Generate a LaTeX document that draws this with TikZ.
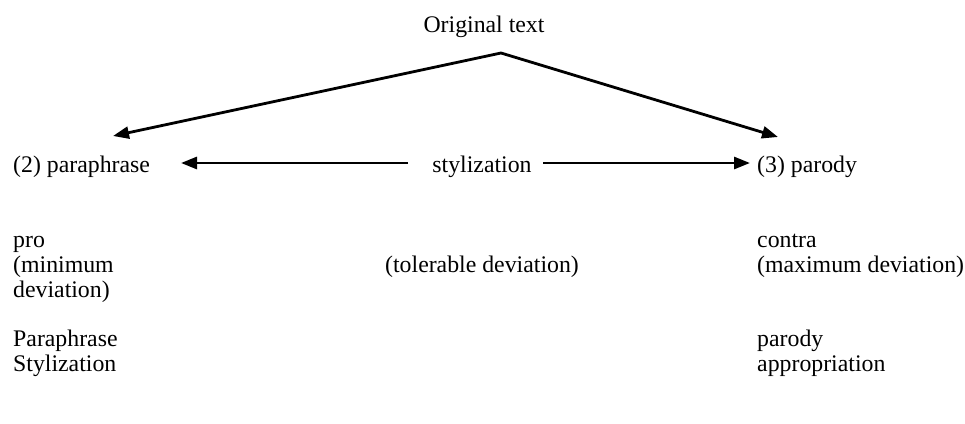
\documentclass[tikz,border=0pt]{standalone}
\usepackage{fontspec}
\setmainfont{Liberation Serif}
\usetikzlibrary{arrows.meta}
\begin{document}
\begin{tikzpicture}[x=1pt,y=-1pt,
  lbl/.style={inner sep=0pt, font=\fontsize{23.8}{25}\selectfont, anchor=base west, align=left},
  arr/.style={line width=2.8pt, line join=miter, -{Triangle[length=16pt,width=12pt]}},
  arrs/.style={line width=2.8pt, line join=miter, {Triangle[length=16pt,width=12pt]}-{Triangle[length=16pt,width=12pt]}}]
\useasboundingbox[fill=white] (0,0) rectangle (965,423);
% top
\node[lbl, anchor=base] (orig) at (484,32) {Original text};
\coordinate (apex) at (501,53);
\coordinate (tl) at (113,136);
\coordinate (tr) at (778,137);
\draw[arrs] (tl) -- (apex) -- (tr);
% middle row
\node[lbl] (para) at (13,172) {(2) paraphrase};
\node[lbl, anchor=base] (styl) at (482,172) {stylization};
\node[lbl] (paro) at (757,172) {(3) parody};
\coordinate (sl) at (408,163);
\coordinate (sr) at (543,163);
\coordinate (hl) at (181,163);
\coordinate (hr) at (750,163);
\draw[arr] (sl) -- (hl);
\draw[arr] (sr) -- (hr);
% lower left (base anchor = last line)
\node[lbl] (pro) at (13,247) {pro};
\node[lbl] (minl) at (13,297) {(minimum\\deviation)};
\node[lbl] (pl1) at (13,371) {Paraphrase\\Stylization};
% middle
\node[lbl, anchor=base] (tol) at (482,272) {(tolerable deviation)};
% lower right
\node[lbl] (con) at (757,247) {contra};
\node[lbl] (maxd) at (757,272) {(maximum deviation)};
\node[lbl] (pr1) at (757,371) {parody\\appropriation};
\end{tikzpicture}
\end{document}
